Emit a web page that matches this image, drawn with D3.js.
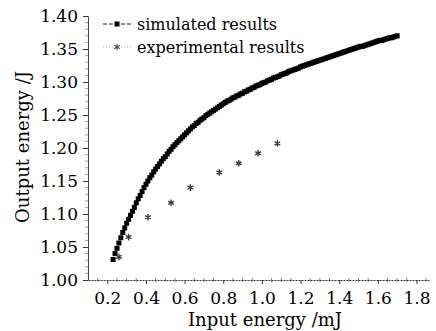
<!DOCTYPE html>
<html>
<head>
<meta charset="utf-8">
<script src="https://cdn.jsdelivr.net/npm/d3@7"></script>
<style>
  body { margin: 0; background: #fff; }
  text { font-family: "DejaVu Serif", "Liberation Serif", serif; fill: #000; }
</style>
</head>
<body>
<script>
// simulated results: input energy grid (mJ) starts at 0.23, step 0.01
var simStart = 0.23, simStep = 0.01;
var simOutput = [
  1.031, 1.040, 1.048, 1.056, 1.064, 1.072, 1.079, 1.086, 1.092, 1.098,
  1.104, 1.110, 1.117, 1.123, 1.128, 1.134, 1.140, 1.145, 1.150, 1.155,
  1.159, 1.164, 1.168, 1.172, 1.176, 1.180, 1.184, 1.187, 1.191, 1.195,
  1.198, 1.202, 1.205, 1.208, 1.211, 1.214, 1.217, 1.220, 1.223, 1.226,
  1.229, 1.232, 1.234, 1.237, 1.239, 1.242, 1.244, 1.246, 1.249, 1.251,
  1.253, 1.255, 1.257, 1.259, 1.261, 1.263, 1.265, 1.267, 1.269, 1.271,
  1.272, 1.274, 1.276, 1.277, 1.279, 1.280, 1.282, 1.283, 1.285, 1.286,
  1.288, 1.289, 1.291, 1.292, 1.294, 1.295, 1.296, 1.298, 1.299, 1.300,
  1.302, 1.303, 1.304, 1.306, 1.307, 1.308, 1.309, 1.311, 1.312, 1.313,
  1.314, 1.316, 1.317, 1.318, 1.319, 1.320, 1.321, 1.323, 1.324, 1.325,
  1.326, 1.327, 1.328, 1.329, 1.330, 1.331, 1.332, 1.333, 1.334, 1.335,
  1.336, 1.337, 1.338, 1.339, 1.340, 1.341, 1.342, 1.343, 1.344, 1.345,
  1.346, 1.347, 1.348, 1.349, 1.350, 1.351, 1.352, 1.353, 1.354, 1.354,
  1.355, 1.356, 1.357, 1.358, 1.359, 1.360, 1.361, 1.362, 1.363, 1.363,
  1.364, 1.365, 1.366, 1.367, 1.367, 1.368, 1.369, 1.370
];

// experimental results
var expInput  = [0.26, 0.31, 0.41, 0.53, 0.63, 0.78, 0.88, 0.98, 1.08];
var expOutput = [1.035, 1.065, 1.095, 1.117, 1.140, 1.163, 1.177, 1.192, 1.207];

var xTicks = [0.2, 0.4, 0.6, 0.8, 1.0, 1.2, 1.4, 1.6, 1.8];
var yTicks = [1.00, 1.05, 1.10, 1.15, 1.20, 1.25, 1.30, 1.35, 1.40];
var legendLabels = ["simulated results", "experimental results"];

var width = 436, height = 331;

var svg = d3.select('body').append('svg')
    .attr('width', width)
    .attr('height', height);

var x = d3.scaleLinear().domain([0.1, 1.87]).range([88, 430]);
var y = d3.scaleLinear().domain([1.0, 1.4]).range([280, 16]);

var simData = simOutput.map(function (v, i) {
    return { x: +(simStart + i * simStep).toFixed(2), y: v };
});
var expData = expInput.map(function (v, i) { return { x: v, y: expOutput[i] }; });

// minor ticks
var xMinor = d3.range(0.15, 1.87, 0.05).filter(function (d) {
    return Math.abs(d * 5 - Math.round(d * 5)) > 1e-6;
});
svg.append('g').selectAll('line').data(xMinor).enter().append('line')
    .attr('x1', function (d) { return x(d); }).attr('x2', function (d) { return x(d); })
    .attr('y1', 278).attr('y2', 282)
    .attr('stroke', '#666').attr('stroke-width', 0.8);

var yMinor = d3.range(1.01, 1.40, 0.01).filter(function (d) {
    return Math.abs(d * 20 - Math.round(d * 20)) > 1e-6;
});
svg.append('g').selectAll('line').data(yMinor).enter().append('line')
    .attr('x1', 85).attr('x2', 88)
    .attr('y1', function (d) { return y(d); }).attr('y2', function (d) { return y(d); })
    .attr('stroke', '#777').attr('stroke-width', 0.7);

// axes
var xAxis = svg.append('g')
    .attr('transform', 'translate(0,280)')
    .call(d3.axisBottom(x).tickValues(xTicks).tickFormat(d3.format('.1f'))
        .tickSize(4).tickPadding(8).tickSizeOuter(0))
    .attr('font-family', null).attr('font-size', null);
xAxis.select('.domain').attr('stroke', '#333').attr('stroke-dasharray', '2,1');
xAxis.selectAll('.tick line').attr('stroke', '#333');
xAxis.selectAll('text').style('font-size', '17px');

var yAxis = svg.append('g')
    .attr('transform', 'translate(88,0)')
    .call(d3.axisLeft(y).tickValues(yTicks).tickFormat(d3.format('.2f'))
        .tickSize(5).tickPadding(5).tickSizeOuter(0))
    .attr('font-family', null).attr('font-size', null);
yAxis.select('.domain').attr('stroke', '#444');
yAxis.selectAll('.tick line').attr('stroke', '#333');
yAxis.selectAll('text').style('font-size', '17px');

// axis titles
svg.append('text')
    .attr('x', 265).attr('y', 326)
    .attr('text-anchor', 'middle')
    .style('font-size', '18px')
    .text('Input energy /mJ');

svg.append('text')
    .attr('transform', 'translate(29,147) rotate(-90)')
    .attr('text-anchor', 'middle')
    .style('font-size', '18px')
    .text('Output energy /J');

// simulated points
var sq = 5;
svg.append('g').selectAll('rect').data(simData).enter().append('rect')
    .attr('x', function (d) { return x(d.x) - sq / 2; })
    .attr('y', function (d) { return y(d.y) - sq / 2; })
    .attr('width', sq).attr('height', sq)
    .attr('fill', '#000');

// experimental points
var star = d3.symbol().type(d3.symbolAsterisk).size(30);
svg.append('g').selectAll('path').data(expData).enter().append('path')
    .attr('d', star)
    .attr('transform', function (d) { return 'translate(' + x(d.x) + ',' + y(d.y) + ')'; })
    .attr('fill', 'none')
    .attr('stroke', '#3a3a3a')
    .attr('stroke-width', 1.4);

// legend
var lg = svg.append('g');
lg.append('line').attr('x1', 103).attr('x2', 132).attr('y1', 24).attr('y2', 24)
    .attr('stroke', '#222').attr('stroke-width', 1).attr('stroke-dasharray', '4,2');
lg.append('rect').attr('x', 117 - 2.5).attr('y', 24 - 2.5).attr('width', 5).attr('height', 5)
    .attr('fill', '#000');
lg.append('line').attr('x1', 103).attr('x2', 132).attr('y1', 47).attr('y2', 47)
    .attr('stroke', '#aaa').attr('stroke-width', 1).attr('stroke-dasharray', '1,2');
lg.append('path').attr('d', star)
    .attr('transform', 'translate(117,47)')
    .attr('fill', 'none').attr('stroke', '#555').attr('stroke-width', 1.2);

lg.selectAll('text.lab').data(legendLabels).enter().append('text')
    .attr('class', 'lab')
    .attr('x', 137)
    .attr('y', function (d, i) { return 24 + i * 23; })
    .attr('dy', '0.35em')
    .style('font-size', '16px')
    .text(function (d) { return d; });
</script>
</body>
</html>
